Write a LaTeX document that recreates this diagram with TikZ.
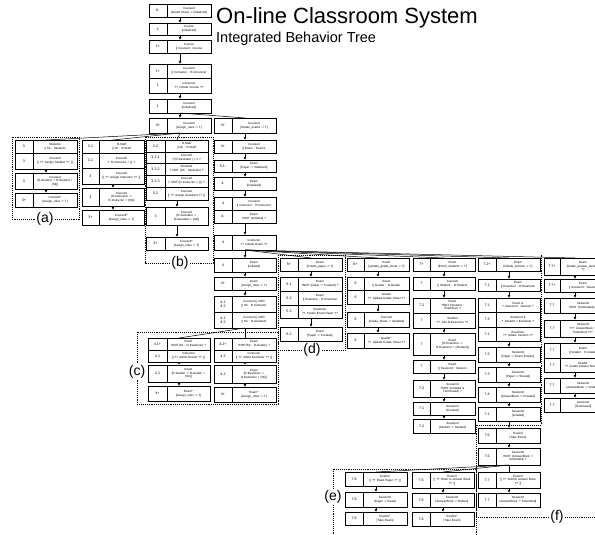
\documentclass[tikz,border=0pt]{standalone}
\usepackage{fontspec}
\setmainfont{Liberation Sans}
\usetikzlibrary{arrows.meta,calc}

\tikzset{
  btbox/.style={draw,line width=0.85pt,anchor=north west,inner sep=0pt,outer sep=0pt,fill=white,minimum width=62pt},
  btline/.style={line width=0.85pt},
  bttag/.style={font=\fontsize{3.6}{4.2}\selectfont,inner sep=0pt,align=center},
  bttxt/.style={font=\fontsize{3}{3.7}\selectfont,inner sep=0pt,align=center},
  flow/.style={-{Latex[length=3pt,width=2.8pt]},line width=0.8pt},
  fan/.style={line width=0.5pt},
  frame/.style={densely dotted,line width=0.9pt},
  flabel/.style={font=\fontsize{14}{14}\selectfont,fill=white,inner sep=1pt}
}

% one behavior tree node: [tag width]{name}{x}{top}{bottom}{tag}{text}
\newcommand\btn[7][18]{%
  \pgfmathsetmacro\bth{#5-#4}%
  \pgfmathsetmacro\btw{61-#1}%
  \node[btbox,minimum height=\bth pt] (#2) at (#3,#4) {};
  \draw[btline] ([xshift=#1pt]#2.north west) -- ([xshift=#1pt]#2.south west);
  \node[bttag] (#2-t) at ([xshift=#1pt/2]#2.west) {#6};
  \node[bttxt,text width=\btw pt] (#2-x) at ([xshift=31pt+#1pt/2]#2.west) {#7};
}

\begin{document}
\begin{tikzpicture}[x=1pt,y=-1pt]
\useasboundingbox[fill=white] (0,0) rectangle (595,535);

% title
\node[anchor=north west,inner sep=0pt,font=\fontsize{22}{22}\selectfont] (title) at (216,7) {On-line Classroom System};
\node[anchor=north west,inner sep=0pt,font=\fontsize{14.5}{14.5}\selectfont] (subtitle) at (216,32) {Integrated Behavior Tree};

% dotted frames
\draw[frame] (12,137) rectangle (79,219);
\draw[frame] (145,137) rectangle (213,263);
\draw[frame] (137,332) rectangle (278,404);
\draw[frame] (278,255) rectangle (345,350);
\draw[frame] (333,540) -- (333,469) -- (476,469) -- (476,540);
\draw[frame] (476,517) -- (476,425) -- (541,425) -- (541,255);
\draw[frame] (476,517) -- (600,517);
\node[flabel] (lab-a) at (45,219) {(a)};
\node[flabel] (lab-b) at (180,263) {(b)};
\node[flabel] (lab-c) at (137,372) {(c)};
\node[flabel] (lab-d) at (312,350) {(d)};
\node[flabel] (lab-e) at (333,497) {(e)};
\node[flabel] (lab-f) at (557,517) {(f)};

% top column
\btn{t1}{149}{4}{17}{6-}{CourseII\\{}[Grade Sheet := Initialized]}
\btn{t2}{149}{23}{35}{1-}{Course\\{}[Initialized]}
\btn{t3}{149}{40}{53}{1+}{Course\\{|}{|} CourseII : Course}
\btn{t4}{149}{64}{78}{1+}{CourseII\\{|}{|} Convener : R-Convener}
\btn{t5}{149}{78}{93}{1}{Convener\\?? Initiate Course ??}
\btn{t6}{149}{99}{113}{1}{CourseII\\{}[Initialized]}
\btn{t7}{149}{118}{133}{3+}{CourseII\\{}[Assign\_roles := T]}

% (a)
\btn{a1}{15}{140}{153}{3}{Students\\{|}{|} Sti : Students}
\btn{a2}{15}{153}{169}{3}{CourseII\\{}[[ ?? Assign Student ?? ]]}
\btn{a3}{15}{173}{189}{3}{CourseII\\{}[R-Student := R-Student +\\\{Sti\}]}
\btn{a4}{15}{193}{207}{3+}{CourseII\textasciicircum\\{}[Assign\_roles := T]}

% staff column
\btn[17]{s1}{82}{140}{153}{3.1}{R-Staff\\{|}{|} Sti : R-Staff}
\btn[17]{s2}{82}{153}{168}{3.1}{CourseII\\? R-Instructor = \{\} ?}
\btn[17]{s3}{82}{168}{184}{3}{CourseII\\{}[[ ?? Assign Instructor ?? ]]}
\btn[17]{s4}{82}{188}{206}{3}{CourseII\\{}[R-Instructor :=\\R-Instructor + \{Sti\}]}
\btn[17]{s5}{82}{210}{225}{3+}{CourseII\textasciicircum\\{}[Assign\_roles := T]}

% (b)
\btn[19]{b1}{146}{140}{152}{3.2}{R-Staff\\{|}{|} Ati : R-Staff}
\btn[19]{b2}{146}{152}{163}{3.2.1}{CourseII\\?| R-Assistant | {<} 2 ?}
\btn[19]{b3}{146}{163}{175}{3.2.2}{Students\\? NOT (Ati : Students) ?}
\btn[19]{b4}{146}{175}{187}{3.2.3}{CourseII\\? NOT (R-Instructor = \{\}) ?}
\btn[19]{b5}{146}{187}{200}{3.2}{CourseII\\{}[[ ?? Assign Assistant ?? ]]}
\btn[19]{b6}{146}{207}{225}{3}{CourseII\\{}[R-Assistant :=\\R-Assistant + \{Ati\}]}
\btn[19]{b7}{146}{237}{250}{3+}{CourseII\textasciicircum\\{}[Assign\_roles := T]}

% exam column
\btn{f1}{214}{118}{133}{4+}{CourseII\\{}[Initiate\_exams := T]}
\btn{f2}{214}{140}{153}{4+}{CourseII\\{|}{|} Exam : Exams}
\btn{f3}{214}{160}{172}{5.1-}{Exam\\{}[Paper := Initialized]}
\btn{f4}{214}{177}{190}{4-}{Exam\\{}[Initialized]}
\btn{f5}{214}{197}{210}{4}{CourseII\\{|}{|} Instructor : R-Instructor}
\btn{f6}{214}{210}{223}{4-}{Exam\\?NOT (Initiated) ?}
\btn{f7}{214}{235}{250}{4}{Instructor\\?? Initiate Exam ??}
\btn{f8}{214}{258}{272}{4}{Exam\\{}[Initiated]}
\btn{f9}{214}{277}{290}{4+}{Exam\\{}[Assign\_roles := T]}
\btn{f10}{214}{296}{312}{4.1\\4.2}{CourseII {|}{|} XOR\\{|}{|} Sti : R-Instructor}
\btn{f11}{214}{312}{328}{4.1\\4.2}{CourseII {|}{|} XOR\\{|}{|} Sti : R-Assistant}

% (c)
\btn[19]{c1}{148}{338}{350}{4.1+}{Exam\\?NOT(Sti : R-Examiner) ?}
\btn[19]{c2}{148}{350}{362}{4.1}{Instructor\\{}[[ ?? Admit Grader ?? ]]}
\btn[19]{c3}{148}{365}{382}{4.1}{Exam\\{}[R-Grader := R-Grader +\\\{Sti\}]}
\btn[19]{c4}{148}{386}{401}{4+}{Exam\textasciicircum\\{}[Assign\_roles := T]}
\btn{d1}{214}{338}{350}{4.2+}{Exam\\?NOT(Sti : R-Grader) ?}
\btn{d2}{214}{350}{362}{4.2}{Instructor\\{}[[ ?? Admit Examiner ?? ]]}
\btn{d3}{214}{365}{383}{4.2}{Exam\\{}[R-Examiner :=\\R-Examiner + \{Sti\}]}
\btn{d4}{214}{387}{402}{4+}{Exam\textasciicircum\\{}[Assign\_roles := T]}

% (d) paper
\btn{p1}{280}{258}{271}{5+}{Exam\\{}[Create\_paper := T]}
\btn{p2}{280}{277}{291}{5.1}{Exam\\?NOT (Paper := Created) ?}
\btn{p3}{280}{291}{305}{5.2}{Exam\\{|}{|} Examiner : R-Examiner}
\btn{p4}{280}{305}{318}{5.2}{Examiner\\?? Create Exam Paper ??}
\btn{p5}{280}{327}{341}{5.2}{Exam\\{}[Paper := Created]}

% grade sheet
\btn[17]{g1}{347}{258}{271}{6+}{Exam\\{}[Update\_grade\_sheet := T]}
\btn[17]{g2}{347}{277}{290}{6}{Exam\\{|}{|} Grader : R-Grader}
\btn[17]{g3}{347}{290}{304}{6}{Grader\\?? Update Grade Sheet ??}
\btn[17]{g4}{347}{312}{327}{6}{CourseII\\{}[Grade\_Sheet := Updated]}
\btn[17]{g5}{347}{333}{348}{6}{Grader\textasciicircum\\?? Update Grade Sheet ??}

% enrolment
\btn[17]{e1}{413}{258}{271}{7+}{Exam\\{}[Enroll\_students := T]}
\btn[17]{e2}{413}{277}{290}{7}{CourseII\\{|}{|} Student : R-Student}
\btn[17]{e3}{413}{298}{313}{7.2}{Exam\\?NOT (Student :\\Examiner) ?}
\btn[17]{e4}{413}{313}{328}{7}{Student\\?? Join R-Examiner ??}
\btn[17]{e5}{413}{333}{355}{7}{Exam\\{}[R-Examiner :=\\R-Examiner + \{Student\}]}
\btn[17]{e6}{413}{360}{373}{7}{Exam\\{|}{|} SessionII : Session}
\btn[17]{e7}{413}{380}{397}{7.2}{SessionII\\?NOT (Initiated \&\\Terminated) ?}
\btn[17]{e8}{413}{402}{415}{7.1}{SessionII\\{}[Created]}
\btn[17]{e9}{413}{419}{433}{7.2}{SessionII\\{}[Student := Student]}

% session
\btn{h1}{478}{258}{271}{7.1+}{Exam\\{}[Initiate\_session := T]}
\btn{h2}{478}{279}{291}{7.1}{Exam\\{|}{|} Examiner : R-Examiner}
\btn{h3}{478}{298}{312}{7.1}{Exam \&\\? SessionII : Session ?}
\btn{h4}{478}{312}{327}{7.3}{SessionII \&\\? Student = Examiner ?}
\btn{h5}{478}{327}{341}{7.1}{Examiner\\?? Initiate Session ??}
\btn{h6}{478}{347}{362}{7.3}{SessionII\\{}[Paper := Exam [Paper]]}
\btn{h7}{478}{367}{382}{7.3}{SessionII\\{}[Paper := Shared]}
\btn{h8}{478}{387}{402}{7.4}{SessionII\\{}[AnswerBook := Created]}
\btn{h9}{478}{407}{421}{7.1}{SessionII\\{}[Initiated]}
\btn{h10}{478}{428}{443}{7.6}{ExamII\\{}[Take Exam]}
\btn{h11}{478}{448}{465}{7.6}{SessionII\\?NOT (AnswerBook :=\\Submitted) ?}

% grading
\btn[16]{k1}{544}{258}{275}{7.7+}{Exam\\{}[Grade\_answer\_book :=\\T]}
\btn[16]{k2}{544}{279}{292}{7.7+}{Exam\\{|}{|} SessionII : Session}
\btn[16]{k3}{544}{298}{313}{7.7}{SessionII\\?NOT (Terminated) ?}
\btn[16]{k4}{544}{320}{337}{7.7}{SessionII\\??? AnswerBook :=\\Submitted ???}
\btn[16]{k5}{544}{343}{358}{7.7}{Exam\\{|}{|} Grader : R-Grader}
\btn[16]{k6}{544}{358}{372}{7.7}{Grader\\?? Grade Answer Book ??}
\btn[16]{k7}{544}{378}{393}{7.7}{SessionII\\{}[AnswerBook := Graded]}
\btn[16]{k8}{544}{398}{412}{7.7}{SessionII\\{}[Terminated]}

% (e) and (f)
\btn{l1}{345}{472}{486}{7.6}{ExamII\\{}[[ ?? Read Paper ?? ]]}
\btn{l2}{345}{492}{507}{7.6}{SessionII\\{}[Paper := Read]}
\btn{l3}{345}{512}{525}{7.6}{ExamII\textasciicircum\\{}[Take Exam]}
\btn{m1}{412}{472}{488}{7.6}{ExamII\\{}[[ ?? Write to Answer Book\\?? ]]}
\btn{m2}{412}{493}{507}{7.6}{SessionII\\{}[AnswerBook := Written]}
\btn{m3}{412}{512}{526}{7.6}{ExamII\textasciicircum\\{}[Take Exam]}
\btn{n1}{478}{472}{488}{7.7}{ExamII\\{}[[ ?? Submit Answer Book\\?? ]]}
\btn{n2}{478}{493}{507}{7.7}{SessionII\\{}[AnswerBook := Submitted]}

% sequence arrows
\foreach \a/\b in {t1/t2,t2/t3,t3/t4,t5/t6,t6/t7,a2/a3,a3/a4,s3/s4,s4/s5,b5/b6,b6/b7,
  f1/f2,f2/f3,f3/f4,f4/f5,f6/f7,f7/f8,f8/f9,f9/f10,c2/c3,c3/c4,d2/d3,d3/d4,
  p1/p2,p4/p5,g1/g2,g3/g4,g4/g5,e1/e2,e2/e3,e4/e5,e5/e6,e6/e7,e7/e8,e8/e9,
  h1/h2,h2/h3,h5/h6,h6/h7,h7/h8,h8/h9,h9/h10,h10/h11,k1/k2,k2/k3,k3/k4,k4/k5,k6/k7,k7/k8,
  l1/l2,l2/l3,m1/m2,m2/m3,n1/n2}
  \draw[flow] (\a.south) -- (\b.north);

% branches
\draw[fan] (t6.south) -- (f1.north);
\foreach \c in {a1,s1,b1} \draw[fan] (t7.south) -- (\c.north);
\foreach \c in {p1,g1,e1,h1,k1} \draw[fan] (f7.south) -- (\c.north);
\foreach \c in {c1,d1} \draw[fan] (f11.south) -- (\c.north);
\foreach \c in {l1,m1,n1} \draw[fan] (h11.south) -- (\c.north);
\end{tikzpicture}
\end{document}
